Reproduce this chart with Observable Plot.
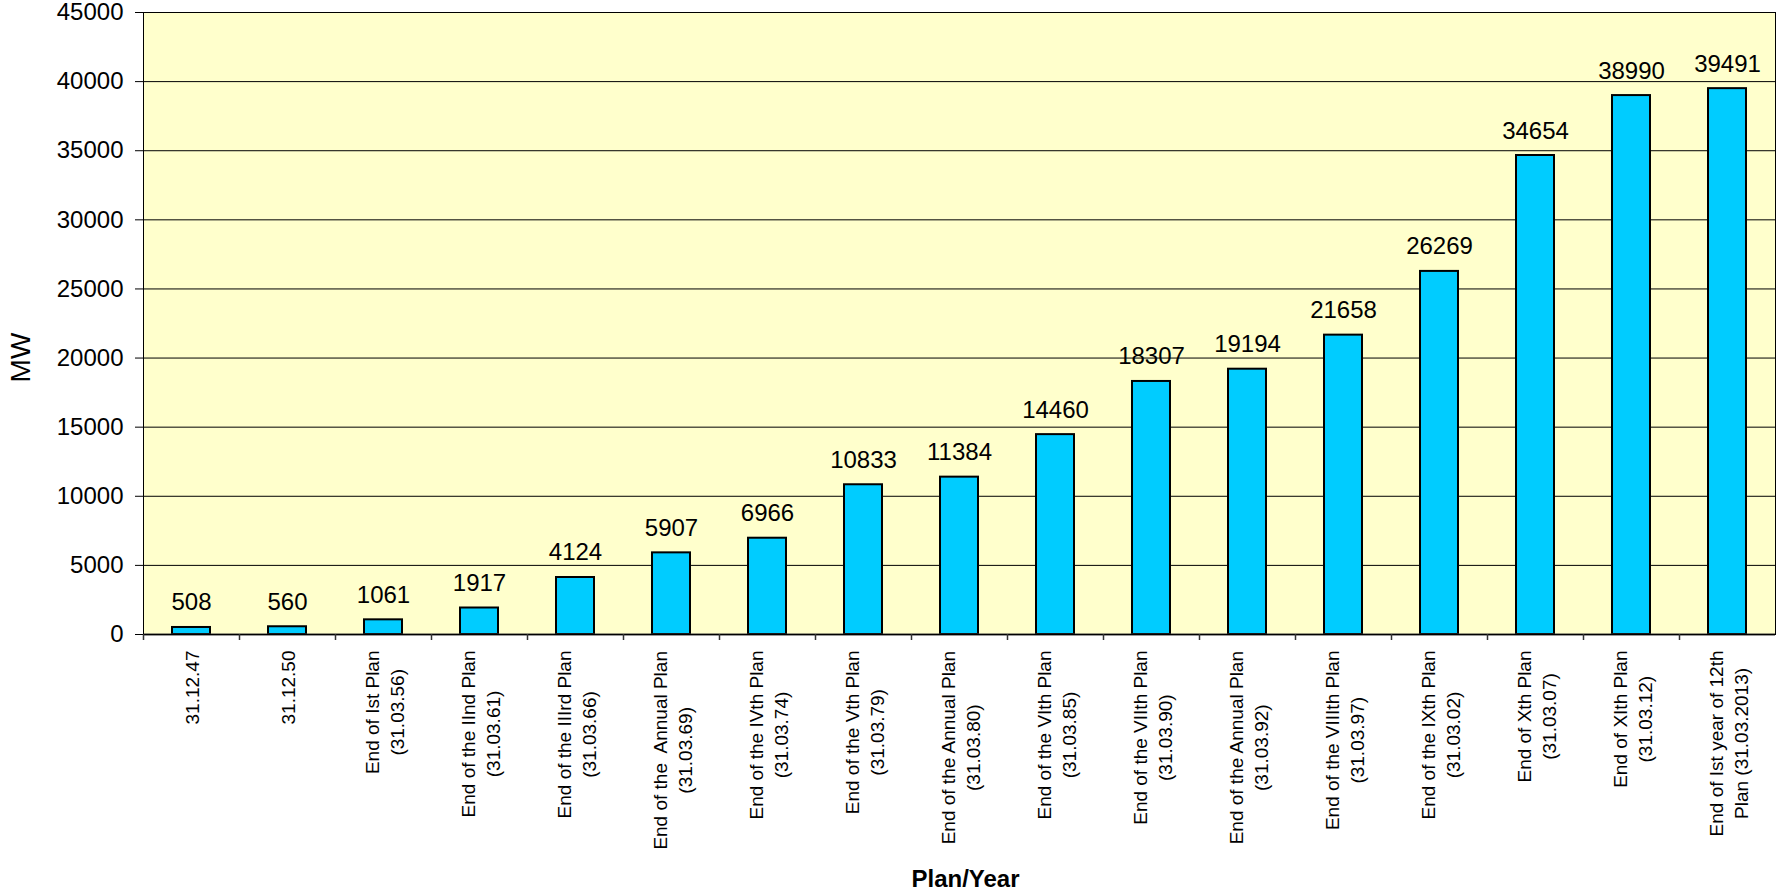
<!DOCTYPE html>
<html>
<head>
<meta charset="utf-8">
<script src="https://cdn.jsdelivr.net/npm/d3@7"></script>
<script src="https://cdn.jsdelivr.net/npm/@observablehq/plot@0.6"></script>
<style>
  body { margin: 0; background: #fff; }
  svg text { white-space: pre; }
</style>
</head>
<body>
<div id="chart"></div>
<script>
// ---- data ----
const categories = [
  "31.12.47",
  "31.12.50",
  "End of Ist Plan\n(31.03.56)",
  "End of the IInd Plan\n(31.03.61)",
  "End of the IIIrd Plan\n(31.03.66)",
  "End of the  Annual Plan\n(31.03.69)",
  "End of the IVth Plan\n(31.03.74)",
  "End of the Vth Plan\n(31.03.79)",
  "End of the Annual Plan\n(31.03.80)",
  "End of the VIth Plan\n(31.03.85)",
  "End of the VIIth Plan\n(31.03.90)",
  "End of the Annual Plan\n(31.03.92)",
  "End of the VIIIth Plan\n(31.03.97)",
  "End of the IXth Plan\n(31.03.02)",
  "End of Xth Plan\n(31.03.07)",
  "End of XIth Plan\n(31.03.12)",
  "End of Ist year of 12th\nPlan (31.03.2013)"
];
const capacityMW = [508, 560, 1061, 1917, 4124, 5907, 6966, 10833, 11384, 14460, 18307, 19194, 21658, 26269, 34654, 38990, 39491];
const yTicks = [0, 5000, 10000, 15000, 20000, 25000, 30000, 35000, 40000, 45000];
const gridTicks = [5000, 10000, 15000, 20000, 25000, 30000, 35000, 40000];
const yLabel = "MW";
const xLabel = "Plan/Year";

// ---- layout ----
const W = 1776, H = 894;
const mL = 143, mR = 1, mT = 12, mB = 260;
const FONT = "Liberation Sans, Arial, Helvetica, sans-serif";
const yMax = 45000;
const pxToVal = yMax / (H - mT - mB);
const step = (W - mL - mR) / categories.length;

const ctx = document.createElement("canvas").getContext("2d");
ctx.font = `19px ${FONT}`;

const data = categories.map((c, i) => {
  const maxW = d3.max(c.split("\n"), s => ctx.measureText(s).width);
  return {cat: c, value: capacityMW[i], labelY: -(16 + maxW / 2) * pxToVal};
});

const chart = Plot.plot({
  width: W,
  height: H,
  marginLeft: mL,
  marginRight: mR,
  marginTop: mT,
  marginBottom: mB,
  style: {fontFamily: FONT, fontSize: "24px", background: "#fff", color: "#000", overflow: "visible"},
  x: {type: "band", domain: categories, paddingInner: 0.6, paddingOuter: 0.3, axis: null},
  y: {domain: [0, yMax], axis: null},
  marks: [
    Plot.frame({fill: "#FFFFCC", stroke: null}),
    Plot.gridY(gridTicks, {stroke: "#000", strokeOpacity: 1, strokeWidth: 1}),
    Plot.barY(data, {x: "cat", y: "value", fill: "#00CCFF", stroke: "#000", strokeWidth: 2}),
    Plot.ruleY([0], {stroke: "#333", strokeWidth: 2}),
    Plot.frame({stroke: "#000", strokeWidth: 1}),
    Plot.ruleX(categories, {x: d => d, y1: 0, y2: -6 * pxToVal, dx: -step / 2, stroke: "#333", strokeWidth: 1.5}),
    Plot.axisY(yTicks, {tickSize: 8, tickPadding: 12, tickFormat: d => String(d), fontSize: 24, label: null, stroke: "#000"}),
    Plot.text(data, {x: "cat", y: "value", text: d => String(d.value), dy: -17, lineAnchor: "bottom", fontSize: 24, fill: "#000"}),
    Plot.text(data, {x: "cat", y: "labelY", text: "cat", rotate: -90, textAnchor: "middle", lineAnchor: "middle", lineHeight: 1.3, fontSize: 19, fill: "#000"}),
    Plot.text([xLabel], {text: d => d, frameAnchor: "bottom", dy: 245, dx: 6, lineAnchor: "middle", fontWeight: "bold", fontSize: 24, fill: "#000"}),
    Plot.text([yLabel], {text: d => d, frameAnchor: "left", dx: -122, dy: 34, rotate: -90, textAnchor: "middle", lineAnchor: "middle", fontSize: 28, fill: "#000"})
  ]
});
document.getElementById("chart").appendChild(chart);
</script>
</body>
</html>
